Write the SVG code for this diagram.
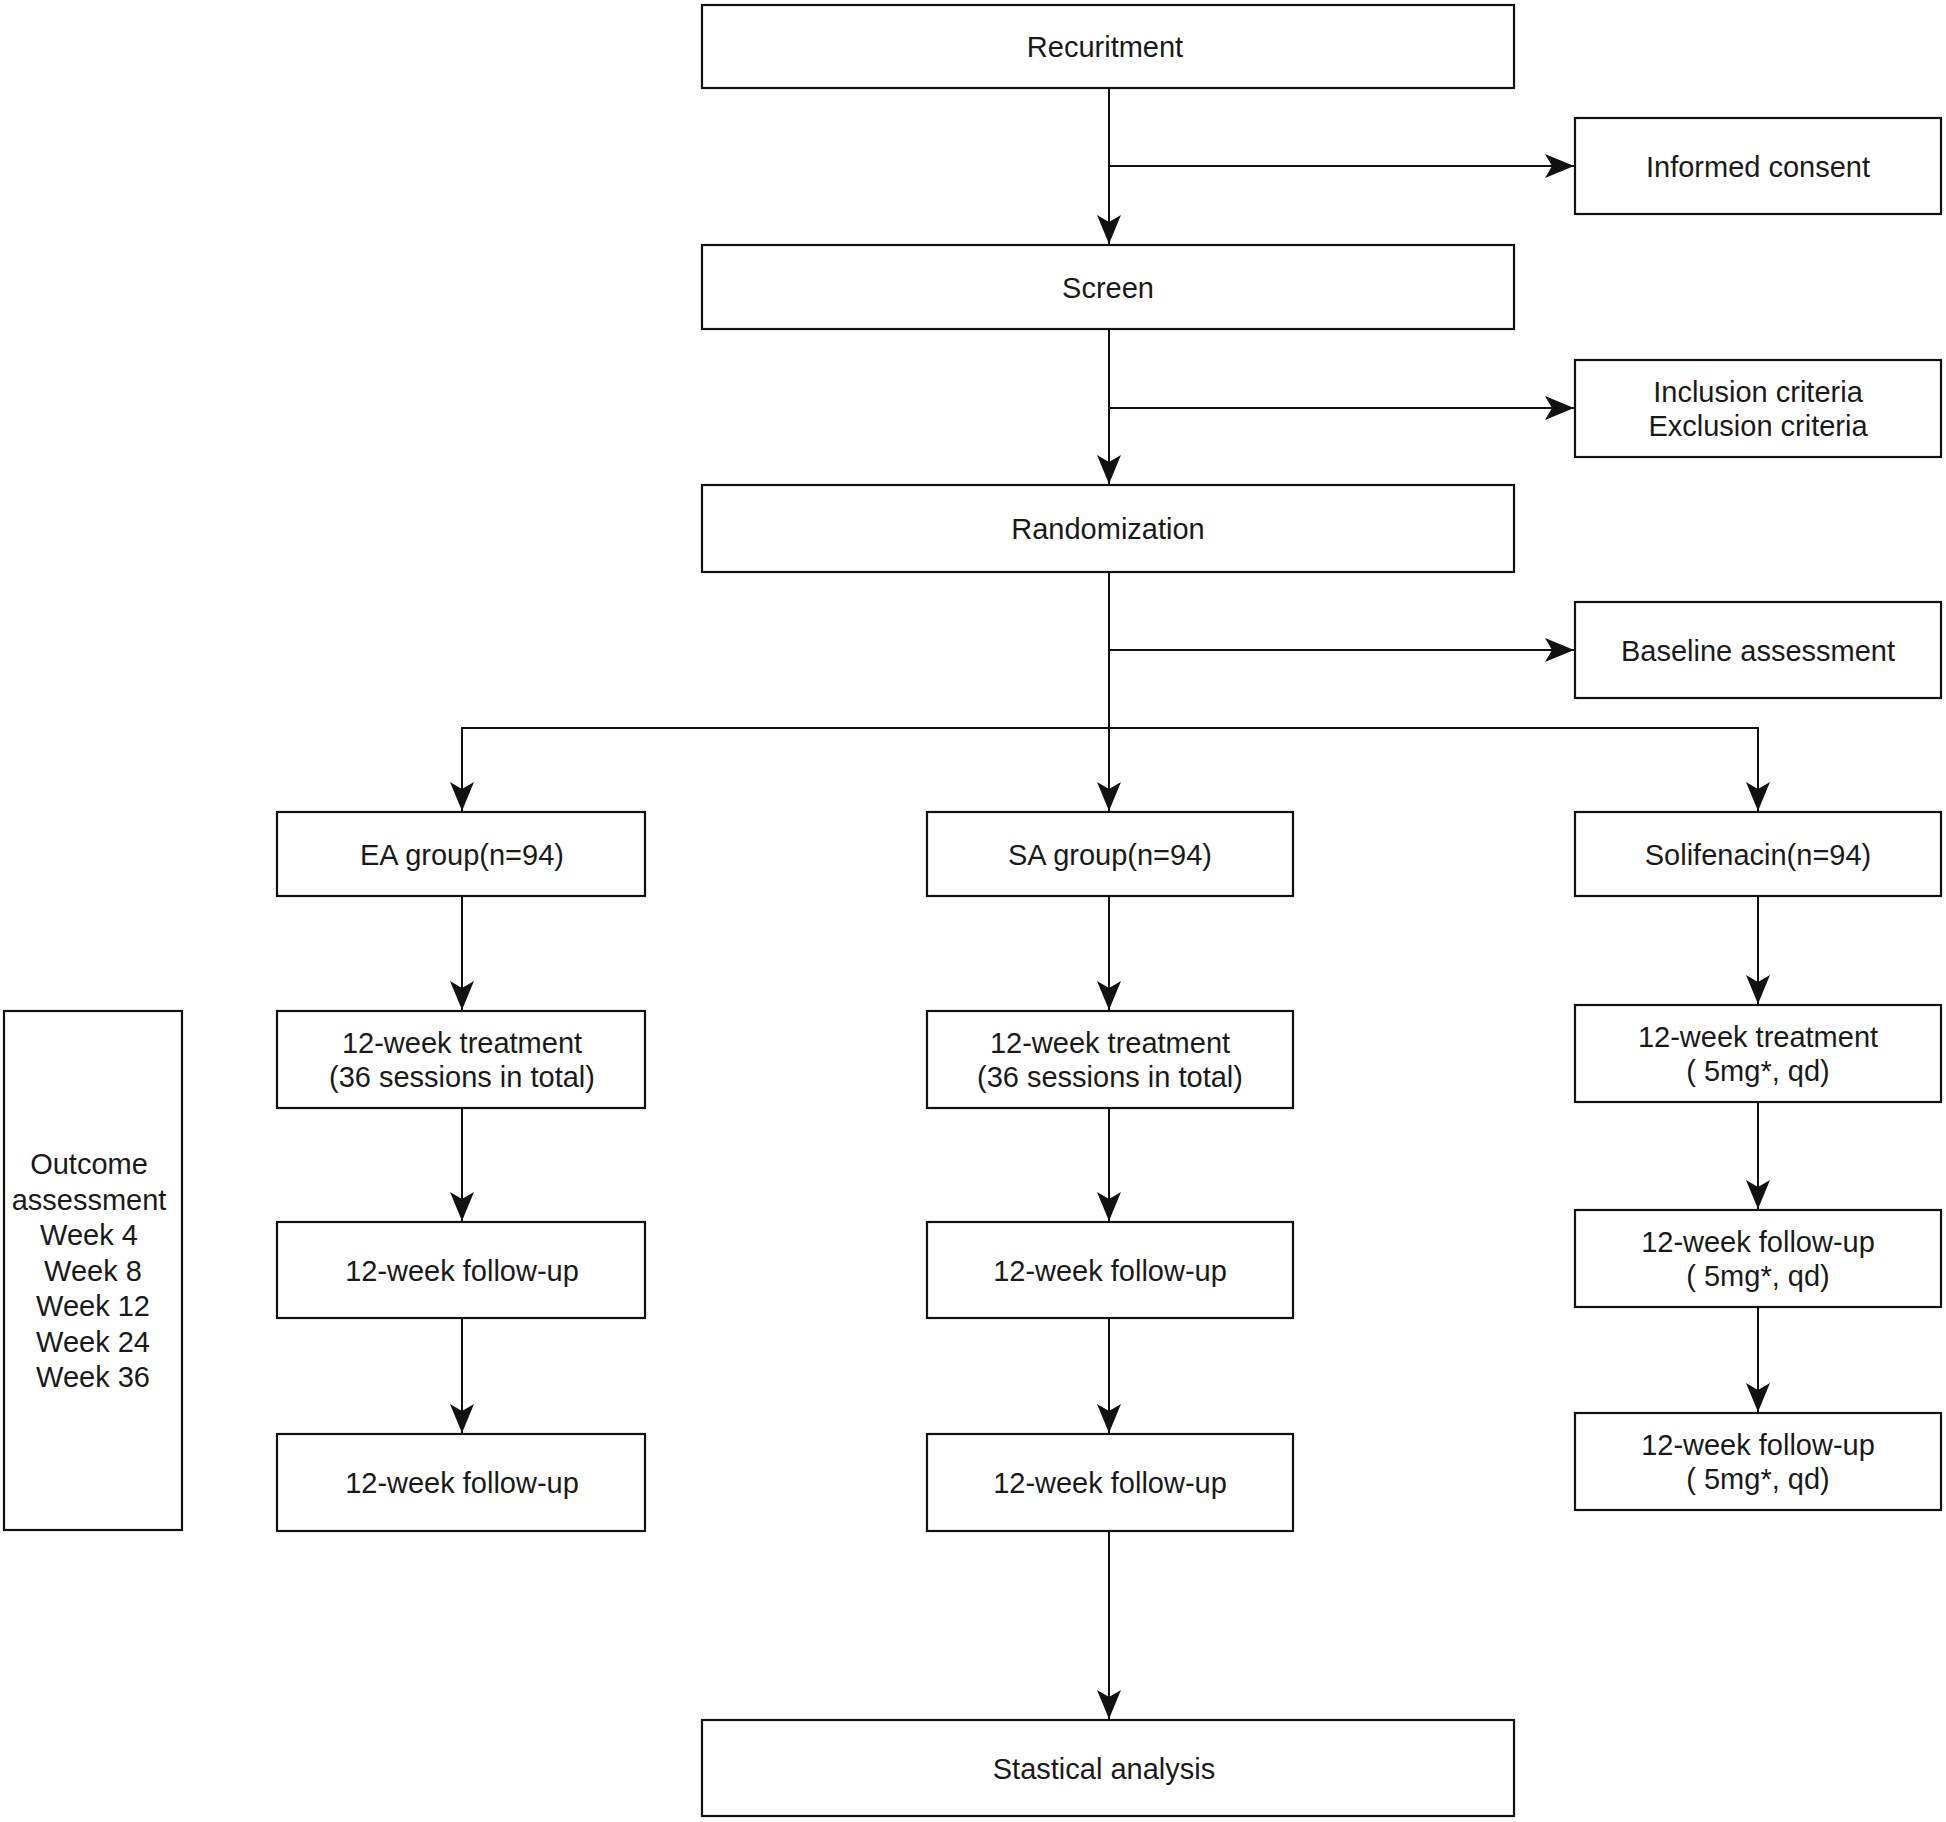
<svg xmlns="http://www.w3.org/2000/svg" width="1946" height="1822" viewBox="0 0 1946 1822">
<style>
.box{fill:#fff;stroke:#111;stroke-width:2.2}
.t{font-family:"Liberation Sans",Arial,Helvetica,sans-serif;font-size:29px;fill:#1a1a1a;text-anchor:middle}
.c{fill:none;stroke:#111;stroke-width:2}
</style>
<defs>
<marker id="arr" viewBox="0 0 29 24" refX="29" refY="12" markerWidth="29" markerHeight="24" markerUnits="userSpaceOnUse" orient="auto">
<path d="M0,0 L29,12 L0,24 L7,12 Z" fill="#111"/>
</marker>
</defs>
<rect width="1946" height="1822" fill="#fff"/>
<g id="connectors">
<path class="c" d="M1109,88 V244" marker-end="url(#arr)"/>
<path class="c" d="M1109,166 H1574" marker-end="url(#arr)"/>
<path class="c" d="M1109,329 V484" marker-end="url(#arr)"/>
<path class="c" d="M1109,408 H1574" marker-end="url(#arr)"/>
<path class="c" d="M1109,572 V811" marker-end="url(#arr)"/>
<path class="c" d="M1109,650 H1574" marker-end="url(#arr)"/>
<path class="c" d="M1109,728 H462 V811" marker-end="url(#arr)"/>
<path class="c" d="M1109,728 H1758 V811" marker-end="url(#arr)"/>
<path class="c" d="M462,896 V1010" marker-end="url(#arr)"/>
<path class="c" d="M462,1108 V1221" marker-end="url(#arr)"/>
<path class="c" d="M462,1318 V1433" marker-end="url(#arr)"/>
<path class="c" d="M1109,896 V1010" marker-end="url(#arr)"/>
<path class="c" d="M1109,1108 V1221" marker-end="url(#arr)"/>
<path class="c" d="M1109,1318 V1433" marker-end="url(#arr)"/>
<path class="c" d="M1109,1531 V1719" marker-end="url(#arr)"/>
<path class="c" d="M1758,896 V1004" marker-end="url(#arr)"/>
<path class="c" d="M1758,1102 V1209" marker-end="url(#arr)"/>
<path class="c" d="M1758,1307 V1412" marker-end="url(#arr)"/>
</g>
<g id="recruitment"><rect class="box" x="702" y="5" width="812" height="83"/><text class="t" x="1105" y="57">Recuritment</text></g>
<g id="informed-consent"><rect class="box" x="1575" y="118" width="366" height="96"/><text class="t" x="1758" y="177">Informed consent</text></g>
<g id="screen"><rect class="box" x="702" y="245" width="812" height="84"/><text class="t" x="1108" y="298">Screen</text></g>
<g id="criteria"><rect class="box" x="1575" y="360" width="366" height="97"/><text class="t" x="1758" y="402">Inclusion criteria</text><text class="t" x="1758" y="436">Exclusion criteria</text></g>
<g id="randomization"><rect class="box" x="702" y="485" width="812" height="87"/><text class="t" x="1108" y="539">Randomization</text></g>
<g id="baseline"><rect class="box" x="1575" y="602" width="366" height="96"/><text class="t" x="1758" y="661">Baseline assessment</text></g>
<g id="ea-group"><rect class="box" x="277" y="812" width="368" height="84"/><text class="t" x="462" y="865">EA group(n=94)</text></g>
<g id="sa-group"><rect class="box" x="927" y="812" width="366" height="84"/><text class="t" x="1110" y="865">SA group(n=94)</text></g>
<g id="solifenacin"><rect class="box" x="1575" y="812" width="366" height="84"/><text class="t" x="1758" y="865">Solifenacin(n=94)</text></g>
<g id="ea-treatment"><rect class="box" x="277" y="1011" width="368" height="97"/><text class="t" x="462" y="1053">12-week treatment</text><text class="t" x="462" y="1087">(36 sessions in total)</text></g>
<g id="sa-treatment"><rect class="box" x="927" y="1011" width="366" height="97"/><text class="t" x="1110" y="1053">12-week treatment</text><text class="t" x="1110" y="1087">(36 sessions in total)</text></g>
<g id="sol-treatment"><rect class="box" x="1575" y="1005" width="366" height="97"/><text class="t" x="1758" y="1047">12-week treatment</text><text class="t" x="1758" y="1081">( 5mg*, qd)</text></g>
<g id="ea-followup1"><rect class="box" x="277" y="1222" width="368" height="96"/><text class="t" x="462" y="1281">12-week follow-up</text></g>
<g id="sa-followup1"><rect class="box" x="927" y="1222" width="366" height="96"/><text class="t" x="1110" y="1281">12-week follow-up</text></g>
<g id="sol-followup1"><rect class="box" x="1575" y="1210" width="366" height="97"/><text class="t" x="1758" y="1252">12-week follow-up</text><text class="t" x="1758" y="1286">( 5mg*, qd)</text></g>
<g id="ea-followup2"><rect class="box" x="277" y="1434" width="368" height="97"/><text class="t" x="462" y="1493">12-week follow-up</text></g>
<g id="sa-followup2"><rect class="box" x="927" y="1434" width="366" height="97"/><text class="t" x="1110" y="1493">12-week follow-up</text></g>
<g id="sol-followup2"><rect class="box" x="1575" y="1413" width="366" height="97"/><text class="t" x="1758" y="1455">12-week follow-up</text><text class="t" x="1758" y="1489">( 5mg*, qd)</text></g>
<g id="outcome"><rect class="box" x="4" y="1011" width="178" height="519"/>
<text class="t" x="89" y="1174">Outcome</text>
<text class="t" x="89" y="1210">assessment</text>
<text class="t" x="89" y="1245">Week 4</text>
<text class="t" x="93" y="1281">Week 8</text>
<text class="t" x="93" y="1316">Week 12</text>
<text class="t" x="93" y="1352">Week 24</text>
<text class="t" x="93" y="1387">Week 36</text>
</g>
<g id="statistical-analysis"><rect class="box" x="702" y="1720" width="812" height="96"/><text class="t" x="1104" y="1779">Stastical analysis</text></g>
</svg>
